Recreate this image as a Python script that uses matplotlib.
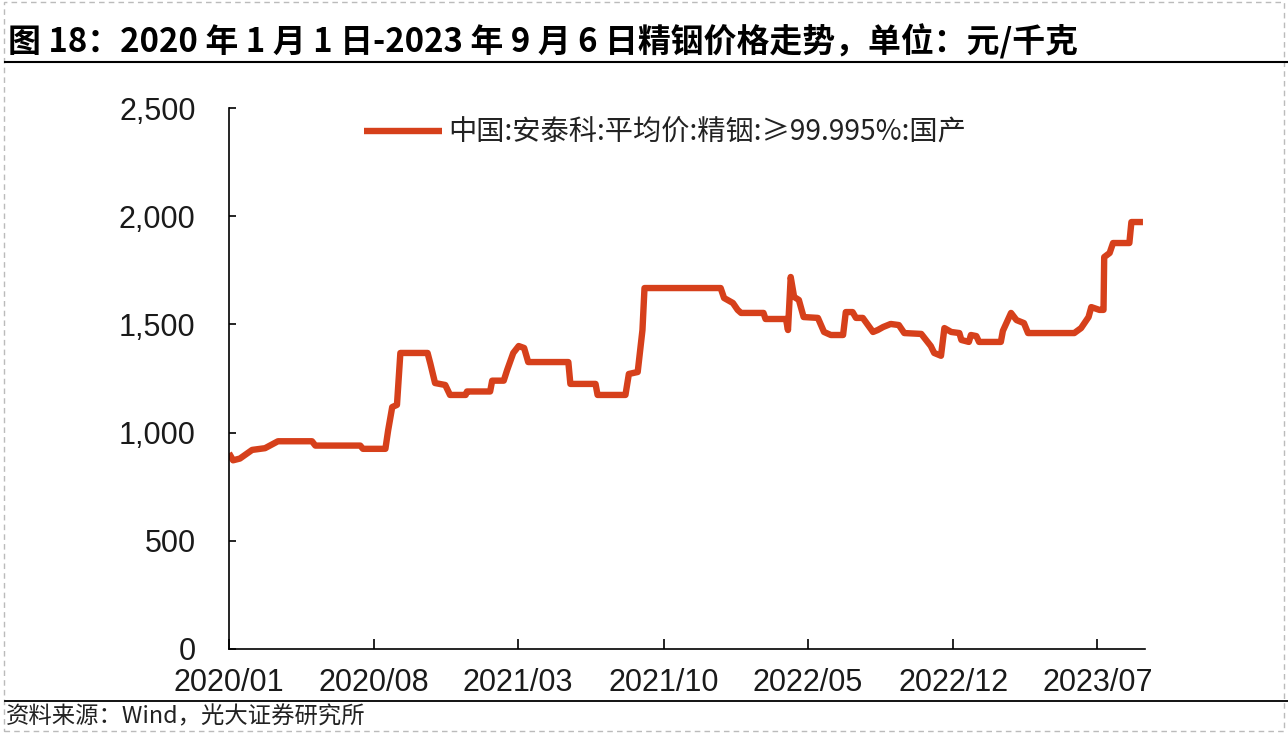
import matplotlib
matplotlib.use("Agg")
import matplotlib.pyplot as plt
import matplotlib.dates as mdates
from matplotlib import font_manager as fm
from matplotlib.patches import Rectangle
from matplotlib.lines import Line2D
from matplotlib.ticker import FuncFormatter
import pandas as pd

# ---------------- data ----------------
dates = [
    "2020-01-01", "2020-01-07", "2020-01-17", "2020-02-04", "2020-02-23", "2020-03-13",
    "2020-05-02", "2020-05-07", "2020-07-12", "2020-07-16", "2020-08-18", "2020-08-22",
    "2020-08-28", "2020-09-04", "2020-09-09", "2020-10-19", "2020-10-23", "2020-10-30",
    "2020-11-14", "2020-11-21", "2020-12-14", "2020-12-16", "2021-01-19", "2021-01-22",
    "2021-02-08", "2021-02-13", "2021-02-22", "2021-03-02", "2021-03-10", "2021-03-16",
    "2021-05-14", "2021-05-17", "2021-06-23", "2021-06-26", "2021-08-06", "2021-08-11",
    "2021-08-24", "2021-08-31", "2021-09-03", "2021-12-24", "2021-12-29", "2022-01-11",
    "2022-01-18", "2022-01-23", "2022-02-25", "2022-02-28", "2022-03-30", "2022-04-02",
    "2022-04-06", "2022-04-11", "2022-04-18", "2022-04-25", "2022-05-16", "2022-05-25",
    "2022-06-04", "2022-06-22", "2022-06-26", "2022-07-06", "2022-07-11", "2022-07-21",
    "2022-08-05", "2022-08-12", "2022-08-20", "2022-08-31", "2022-09-12", "2022-09-20",
    "2022-10-15", "2022-10-29", "2022-11-03", "2022-11-13", "2022-11-18", "2022-11-28",
    "2022-12-10", "2022-12-13", "2022-12-24", "2022-12-27", "2023-01-04", "2023-01-08",
    "2023-02-09", "2023-02-12", "2023-02-24", "2023-03-04", "2023-03-15", "2023-03-21",
    "2023-05-28", "2023-06-07", "2023-06-18", "2023-06-22", "2023-07-04", "2023-07-10",
    "2023-07-11", "2023-07-19", "2023-07-24", "2023-08-17", "2023-08-20", "2023-09-06",
]
prices = [
    905, 872, 880, 920, 928, 960,
    960, 940, 940, 925, 925, 1010,
    1118, 1128, 1368, 1368, 1320, 1229,
    1220, 1174, 1174, 1190, 1190, 1240,
    1240, 1289, 1368, 1400, 1391, 1326,
    1326, 1225, 1225, 1174, 1174, 1271,
    1280, 1474, 1668, 1668, 1622, 1599,
    1567, 1553, 1553, 1525, 1525, 1474,
    1719, 1627, 1613, 1534, 1530, 1465,
    1451, 1451, 1557, 1557, 1530, 1530,
    1465, 1474, 1488, 1502, 1497, 1460,
    1456, 1400, 1368, 1355, 1483, 1465,
    1460, 1428, 1419, 1451, 1446, 1419,
    1419, 1470, 1553, 1520, 1506, 1460,
    1460, 1483, 1534, 1580, 1567, 1567,
    1811, 1830, 1876, 1876, 1973, 1973,
]
tick_dates = ["2020-01-01", "2020-08-01", "2021-03-01", "2021-10-01",
              "2022-05-01", "2022-12-01", "2023-07-01"]
y_ticks = [0, 500, 1000, 1500, 2000, 2500]
series_name = "中国:安泰科:平均价:精铟:≥99.995%:国产"
title_text = "图 18：2020 年 1 月 1 日-2023 年 9 月 6 日精铟价格走势，单位：元/千克"
source_text = "资料来源：Wind，光大证券研究所"

# ---------------- fonts ----------------
names = {f.name for f in fm.fontManager.ttflist}
num_font = "Liberation Sans Narrow" if "Liberation Sans Narrow" in names else "Liberation Sans"
cjk = "Noto Sans CJK SC"
plt.rcParams["font.family"] = [num_font, cjk, "DejaVu Sans"]
plt.rcParams["axes.unicode_minus"] = False

W, H = 1288, 746
fig = plt.figure(figsize=(W / 100, H / 100), dpi=100)
fig.patch.set_facecolor("white")

def fx(px):
    return px / W

def fy(py):
    return 1 - py / H

ax = fig.add_axes([fx(229), fy(649), fx(1145) - fx(229), fy(108) - fy(649)])

x = pd.to_datetime(dates)
line_color = "#D6401B"
ax.plot(x, prices, color=line_color, lw=4.6, solid_joinstyle="round",
        solid_capstyle="butt", label=series_name)

ax.set_ylim(0, 2500)
ax.set_xlim(pd.Timestamp("2020-01-01"), pd.Timestamp("2023-09-09"))
ax.set_yticks(y_ticks)
ax.yaxis.set_major_formatter(FuncFormatter(lambda v, p: f"{v:,.0f}"))
ax.set_xticks(pd.to_datetime(tick_dates))
ax.xaxis.set_major_formatter(mdates.DateFormatter("%Y/%m"))

for s in ["top", "right"]:
    ax.spines[s].set_visible(False)
for s in ["left", "bottom"]:
    ax.spines[s].set_linewidth(1.2)
    ax.spines[s].set_color("black")

ax.tick_params(axis="y", direction="in", length=5, width=1.2, pad=24,
               labelsize=22, labelcolor="#1a1a1a")
ax.tick_params(axis="x", direction="in", length=7, width=1.2, pad=14,
               labelsize=22, labelcolor="#1a1a1a")

leg = fig.legend(loc="center left", bbox_to_anchor=(fx(364), fy(133)),
                 frameon=False, handlelength=2.75, handletextpad=0.25,
                 borderpad=0, borderaxespad=0,
                 prop={"family": [cjk, "DejaVu Sans"], "size": 20.3})
for t in leg.get_texts():
    t.set_color("#222222")

# title
fig.text(fx(8), fy(42), title_text, ha="left", va="center",
         fontsize=23.7, fontweight="bold", family=[cjk, "DejaVu Sans"], color="black")
# line under title
fig.add_artist(Line2D([fx(5), 1.0], [fy(62), fy(62)], color="black", lw=1.5))
# line above source
fig.add_artist(Line2D([fx(5), 1.0], [fy(701), fy(701)], color="black", lw=1.3))
# source
fig.text(fx(6), fy(717), source_text, ha="left", va="center",
         fontsize=16.8, family=[cjk, "DejaVu Sans"], color="#222222")
# dashed frame
fig.add_artist(Rectangle((fx(4), fy(731)), fx(1284) - fx(4), fy(2) - fy(731),
                         transform=fig.transFigure, fill=False,
                         edgecolor="#BBBBBB", lw=1.0, ls=(0, (4, 3))))

fig.savefig("out.png", dpi=100, facecolor="white")
